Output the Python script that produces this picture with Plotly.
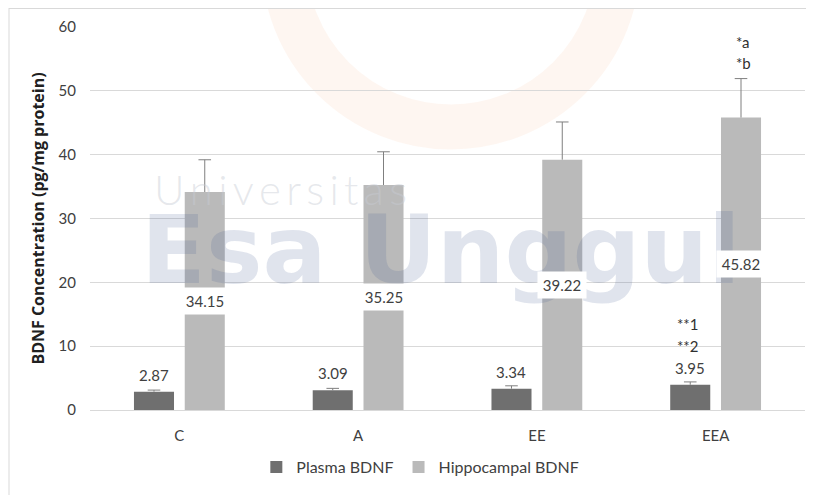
import plotly.graph_objects as go

categories = ["C", "A", "EE", "EEA"]
plasma = [2.87, 3.09, 3.34, 3.95]
plasma_err = [0.25, 0.3, 0.45, 0.45]
hippo = [34.15, 35.25, 39.22, 45.82]
hippo_err = [5.05, 5.2, 5.9, 6.1]
y_ticks = [0, 10, 20, 30, 40, 50, 60]

FONT = "Lato, Carlito, Calibri, sans-serif"
TXT = "#404040"
ERR = "#7f7f7f"

idx = list(range(len(categories)))
OFF = 0.142
BW = 0.224
xp = [i - OFF for i in idx]
xh = [i + OFF for i in idx]

fig = go.Figure()
fig.add_trace(go.Bar(name="Plasma BDNF", x=xp, y=plasma, width=BW,
                     marker=dict(color="#6f6f6f", line=dict(width=0))))
fig.add_trace(go.Bar(name="Hippocampal BDNF", x=xh, y=hippo, width=BW,
                     marker=dict(color="#bababa", line=dict(width=0))))

# error bars (upper only, cap at top)
for xs, vals, errs in [(xp, plasma, plasma_err), (xh, hippo, hippo_err)]:
    tops = [v + e for v, e in zip(vals, errs)]
    fig.add_trace(go.Scatter(
        x=xs, y=tops, mode="markers", showlegend=False, hoverinfo="skip",
        marker=dict(symbol="line-ew", size=9, color=ERR, line=dict(color=ERR, width=1)),
        error_y=dict(type="data", symmetric=False, array=[0] * len(errs), arrayminus=errs,
                     color=ERR, thickness=1, width=0),
    ))

# figure pixel positions -> paper coords
L, T, PW, PH = 82, 19, 715, 383
def px(x):
    return (x - L) / PW
def py(y):
    return (T + PH - y) / PH

annotations = []
# watermark (drawn first, under the labels)
annotations.append(dict(x=px(272), y=py(181), xref="paper", yref="paper",
                        text="\u2009".join("Universitas"), showarrow=False,
                        xanchor="center", yanchor="middle",
                        font=dict(family="Lato", size=42, weight=300, color="rgba(200,204,212,0.45)")))
annotations.append(dict(x=px(433), y=py(242), xref="paper", yref="paper",
                        text="<b>Esa Unggul</b>", showarrow=False,
                        xanchor="center", yanchor="middle",
                        font=dict(family="DejaVu Sans", size=95, color="rgba(60,90,140,0.16)")))

for x, v in zip(xp, plasma):
    annotations.append(dict(x=x, y=v, xref="x", yref="y", text=f"{v:.2f}", showarrow=False,
                            yanchor="bottom", yshift=6,
                            font=dict(family=FONT, size=15, color=TXT)))
for x, v in zip(xh, hippo):
    annotations.append(dict(x=x, y=v / 2, xref="x", yref="y", text=f"{v:.2f}", showarrow=False,
                            bgcolor="white", borderpad=4, width=40, height=18,
                            font=dict(family=FONT, size=15, color=TXT)))
for txt, yv in [("**1", 13.5), ("**2", 10.1)]:
    annotations.append(dict(x=xp[-1], y=yv, xref="x", yref="y", text=txt, showarrow=False,
                            xshift=-3, font=dict(family=FONT, size=15, color="#303030")))
for txt, yv in [("*a", 57.7), ("*b", 54.3)]:
    annotations.append(dict(x=xh[-1], y=yv, xref="x", yref="y", text=txt, showarrow=False,
                            xshift=2, font=dict(family=FONT, size=15, color="#303030")))

fig.update_layout(
    width=814, height=495,
    margin=dict(l=L, r=814 - L - PW, t=T, b=495 - T - PH, autoexpand=False),
    paper_bgcolor="white", plot_bgcolor="white",
    font=dict(family=FONT, size=15, color=TXT),
    xaxis=dict(range=[-0.5, 3.5], tickvals=idx, ticktext=categories, showgrid=False,
               zeroline=False, showline=True, linecolor="#d9d9d9", ticks="",
               ticklabelstandoff=12, tickfont=dict(size=15, color=TXT), automargin=False),
    yaxis=dict(range=[0, 60], tickvals=y_ticks, showgrid=True, gridcolor="#d9d9d9",
               zeroline=False, showline=False, ticks="", ticklabelstandoff=13,
               tickfont=dict(size=15, color=TXT), automargin=False,
               title=dict(text="<b>BDNF Concentration (pg/mg protein)</b>", standoff=9,
                          font=dict(family="Open Sans", size=16, color="#202020"))),
    legend=dict(orientation="h", x=0.462, xanchor="center", y=-0.149, yanchor="middle",
                font=dict(size=16, color=TXT), itemwidth=30, traceorder="normal"),
    annotations=annotations,
)
fig.add_shape(type="circle", xref="paper", yref="paper", layer="below",
              x0=px(443 - 167), x1=px(443 + 167), y0=py(-48 + 167), y1=py(-48 - 167),
              line=dict(color="rgba(250,170,120,0.1)", width=45))
fig.add_shape(type="line", xref="paper", yref="paper", x0=px(1), x1=px(814), y0=py(0.5), y1=py(0.5),
              line=dict(color="#d9d9d9", width=1))
fig.add_shape(type="line", xref="paper", yref="paper", x0=px(1), x1=px(1), y0=py(0), y1=py(495),
              line=dict(color="#d9d9d9", width=1))
fig.write_html("out.html")
